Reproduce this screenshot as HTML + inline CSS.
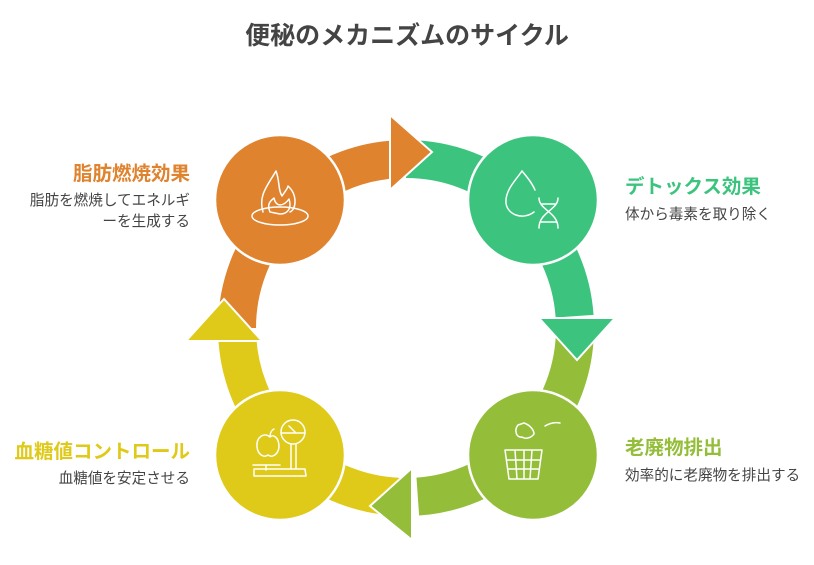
<!DOCTYPE html>
<html><head><meta charset="utf-8"><style>
body{margin:0;width:814px;height:565px;background:#fff;overflow:hidden;font-family:"Liberation Sans","Noto Sans CJK JP",sans-serif;}
svg{position:absolute;left:0;top:0}
.t{position:absolute;font-size:19.5px;font-weight:bold;white-space:nowrap}
.d{position:absolute;font-size:14.6px;color:#444;line-height:21px;white-space:nowrap}
</style></head><body>
<svg width="814" height="565" viewBox="0 0 814 565" id="s"></svg>
<div style="position:absolute;left:0;width:814px;top:16px;text-align:center;font-size:25px;font-weight:bold;color:#444">便秘のメカニズムのサイクル</div>
<div class="t" style="right:624px;top:157px;color:#E0832F">脂肪燃焼効果</div>
<div class="d" style="right:624px;top:191px;text-align:right">脂肪を燃焼してエネルギ<br>ーを生成する</div>
<div class="t" style="left:625px;top:170px;color:#3CC47F">デトックス効果</div>
<div class="d" style="left:625px;top:205px">体から毒素を取り除く</div>
<div class="t" style="left:625px;top:431px;color:#94BE3A">老廃物排出</div>
<div class="d" style="left:625px;top:466px">効率的に老廃物を排出する</div>
<div class="t" style="right:624px;top:435px;color:#DFCA19">血糖値コントロール</div>
<div class="d" style="right:624px;top:469px;text-align:right">血糖値を安定させる</div>
<script>
var s=document.getElementById('s'),cx=406,cy=328,R=169,h='';
function p(a,r){a=a*Math.PI/180;return [(cx+r*Math.cos(a)).toFixed(1),(cy+r*Math.sin(a)).toFixed(1)];}
var segs=[[180,265,'#E0832F'],[270,355,'#3CC47F'],[0,85,'#94BE3A'],[90,175,'#DFCA19']];
segs.forEach(function(g){var a=p(g[0],R),b=p(g[1]+1,R);
h+='<path d="M'+a+' A'+R+' '+R+' 0 0 1 '+b+'" fill="none" stroke="'+g[2]+'" stroke-width="38"/>';});
var heads=[['390,115 390,190 432,152','#E0832F'],['539,318 615,318 577,360','#3CC47F'],['412,468 412,540 370,506','#94BE3A'],['186,341 262,341 224,299','#DFCA19']];
heads.forEach(function(g){h+='<polygon points="'+g[0]+'" fill="'+g[1]+'" stroke="#fff" stroke-width="2"/>';});
[[280,200,'#E0832F'],[533,200,'#3CC47F'],[533,455,'#94BE3A'],[280,455,'#DFCA19']].forEach(function(c){
h+='<circle cx="'+c[0]+'" cy="'+c[1]+'" r="65" fill="'+c[2]+'" stroke="#fff" stroke-width="2.5"/>';});
var w='fill="none" stroke="#fff" stroke-width="1.5" stroke-linecap="round" stroke-linejoin="round"';
h+='<g '+w+'><ellipse cx="280" cy="216" rx="28" ry="9"/><path d="M263 212 C258 195 268 185 276 171 C280 182 278 190 282 196 C286 190 288 188 288 186 C298 195 296 210 290 212"/><path d="M270 212 C266 203 272 200 274 198 C276 208 284 206 289 199 C292 208 288 214 280 214 Z"/></g>';
h+='<g '+w+'><path d="M522 171 C516 180 505 190 506 203 C507 214 522 221 534 212"/><path d="M522 171 C527 177 532 183 535 190"/><path d="M539 198 C539 210 558 212 558 228 M558 198 C558 210 539 212 539 228 M541 204 H556 M541 222 H556"/></g>';
h+='<g '+w+'><path d="M505 450 H542 L538 479 H509 Z M507 460 H540 M508 469 H539 M515 450 L517 479 M524 450 V479 M532 450 L530 479"/><path d="M518 425 C514 430 516 438 522 437 C526 440 532 437 534 434 C534 430 530 425 524 423 Z"/><path d="M545 426 C550 423 555 422 560 423"/></g>';
h+='<g '+w+'><circle cx="293" cy="432" r="12"/><path d="M281 433 H305 M289 426 L295 432 M291 444 V469 M296 444 V469 M254 476 H306 L305 469 H254 Z M253 465 H280 M266 465 V470"/><path d="M270 437 C264 432 256 437 257 447 C258 455 264 458 268 455 C272 458 278 455 279 447 C279 437 273 434 270 437 M270 437 C270 432 272 430 274 429"/></g>';
s.innerHTML=h;
</script>
</body></html>
